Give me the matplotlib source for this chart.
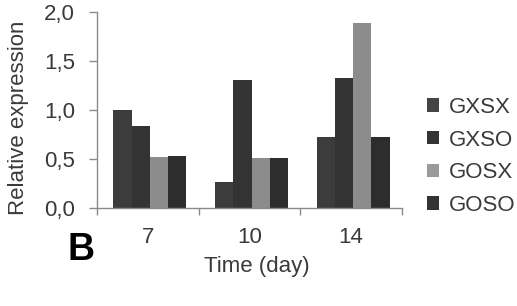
import matplotlib.pyplot as plt
import numpy as np
from matplotlib.patches import Patch

plt.rcParams['font.family'] = ['Liberation Sans', 'DejaVu Sans']

days = ['7', '10', '14']
series = ['GXSX', 'GXSO', 'GOSX', 'GOSO']
gxsx = [1.00, 0.27, 0.72]
gxso = [0.84, 1.31, 1.33]
gosx = [0.52, 0.51, 1.89]
goso = [0.53, 0.51, 0.72]
yticks = [0.0, 0.5, 1.0, 1.5, 2.0]
ytick_labels = ['0,0', '0,5', '1,0', '1,5', '2,0']

colors = ['#3c3c3c', '#333333', '#8c8c8c', '#2d2d2d']
txt = '#3a3a3a'
axc = '#8a8a8a'

fig = plt.figure(figsize=(5.17, 3.06), dpi=100)
ax = fig.add_axes([97 / 517, 98 / 306, 305 / 517, 196 / 306])

x = np.arange(len(days))
w = 0.18
for i, vals in enumerate([gxsx, gxso, gosx, goso]):
    ax.bar(x + (i - 1.5) * w + 0.02, vals, w, color=colors[i], label=series[i])

ax.set_xlim(-0.5, 2.5)
ax.set_ylim(0, 2.0)
ax.set_yticks(yticks)
ax.set_yticklabels(ytick_labels)

ax.set_xticks([-0.5, 0.5, 1.5, 2.5])
ax.set_xticklabels([])
ax.set_xticks(x, minor=True)
ax.set_xticklabels(days, minor=True)
ax.tick_params(axis='x', which='major', length=5, width=1, color=axc)
ax.tick_params(axis='x', which='minor', length=0, pad=14, labelsize=16, labelcolor=txt)
ax.tick_params(axis='y', length=6, width=1, color=axc, pad=10, labelsize=16, labelcolor=txt)

for s in ['top', 'right']:
    ax.spines[s].set_visible(False)
for s in ['left', 'bottom']:
    ax.spines[s].set_color(axc)
    ax.spines[s].set_linewidth(1)

ax.set_ylabel('Relative expression', fontsize=16, color=txt)
ax.yaxis.set_label_coords(-0.224, 0.462)
ax.set_xlabel('Time (day)', fontsize=16, color=txt)
ax.xaxis.set_label_coords(0.525, -0.245)

handles = [Patch(facecolor=c, edgecolor='none') for c in ['#444444', '#333333', '#9a9a9a', '#333333']]
fig.legend(handles, series, loc='center left', bbox_to_anchor=(0.826, 0.489),
           frameon=False, fontsize=16, handlelength=0.55, handleheight=0.55,
           handletextpad=0.45, labelspacing=0.52, borderpad=0, borderaxespad=0,
           labelcolor=txt)

fig.text(67 / 517, 46 / 306, 'B', fontsize=27, fontweight='bold', ha='left', va='baseline')

fig.savefig('out.png', dpi=100)
